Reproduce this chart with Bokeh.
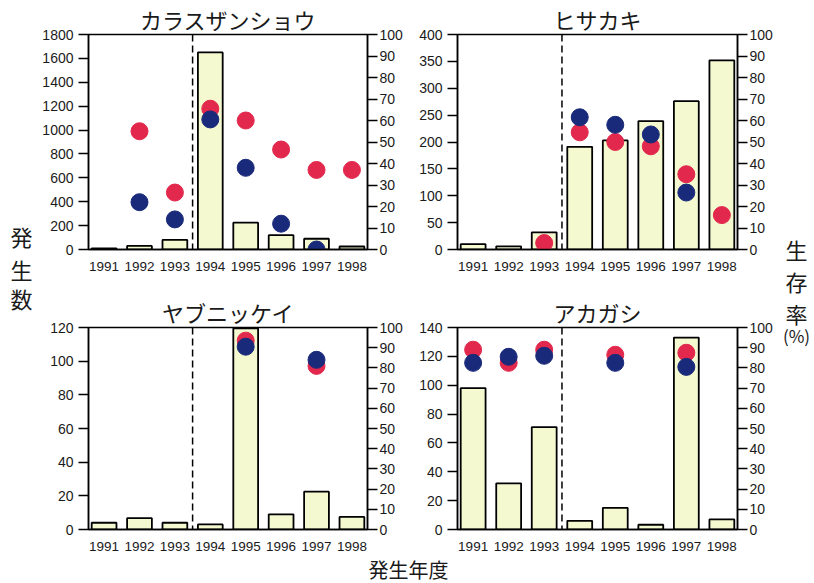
from bokeh.plotting import figure
from bokeh.models import Range1d, LinearAxis, FixedTicker, Span
from bokeh.layouts import row, column
from bokeh.embed import file_html
from bokeh.resources import INLINE
from bokeh.core.properties import value

# ---------------- data ----------------
years = [1991, 1992, 1993, 1994, 1995, 1996, 1997, 1998]
titles = ["カラスザンショウ", "ヒサカキ", "ヤブニッケイ", "アカガシ"]

karasu_counts = [10, 30, 80, 1650, 225, 120, 90, 25]
karasu_red = [None, 55, 26.5, 65.5, 60, 46.5, 37, 37]
karasu_blue = [None, 22, 14, 60.5, 38, 12, 0, None]

hisakaki_counts = [10, 6, 32, 191, 203, 239, 276, 352]
hisakaki_red = [None, None, 3, 54.5, 50, 48, 35, 16]
hisakaki_blue = [None, None, None, 61.5, 58, 53.5, 26.5, None]

yabu_counts = [4, 6.7, 4, 3, 119.5, 9, 22.5, 7.5]
yabu_red = [None, None, None, None, 93.5, None, 81, None]
yabu_blue = [None, None, None, None, 90.5, None, 84, None]

akagashi_counts = [98, 32, 71, 6, 15, 3.3, 133, 7]
akagashi_red = [89, 82.5, 89, None, 86.5, None, 87.5, None]
akagashi_blue = [82.5, 85.5, 86, None, 82.5, None, 80.5, None]

count_max = [1800, 400, 120, 140]
count_step = [200, 50, 20, 20]
pct_ticks = list(range(0, 101, 10))
divider_year = 1993.5

left_label_chars = ["発", "生", "数"]
right_label_chars = ["生", "存", "率"]
right_unit = "(%)"
x_label = "発生年度"

BAR_FILL = "#f4f9cf"
RED = "#e2284c"
BLUE = "#1a2a7a"
NUM_FONT = "Liberation Sans"
YEAR_FONT = "Liberation Sans"
JP_FONT = "Noto Sans CJK JP"
TXT = "#1a1a1a"


def panel(title, counts, red, blue, ymax, step, width, height, bl, br, bt, bb):
    p = figure(width=width, height=height,
               x_range=Range1d(1990.56, 1998.44), y_range=Range1d(0, ymax),
               output_backend="svg", toolbar_location=None,
               min_border_left=bl, min_border_right=br,
               min_border_top=bt, min_border_bottom=bb,
               background_fill_color="white", border_fill_color="white")
    p.extra_y_ranges = {"pct": Range1d(0, 100)}
    p.xgrid.visible = False
    p.ygrid.visible = False
    p.outline_line_color = "black"
    p.outline_line_width = 1.5

    p.title.text = title
    p.title.align = "center"
    p.title.text_font = JP_FONT
    p.title.text_font_size = "22px"
    p.title.text_font_style = "normal"
    p.title.text_color = TXT
    p.title.standoff = 0

    p.vbar(x=years, top=counts, bottom=0, width=0.7,
           fill_color=BAR_FILL, line_color="black", line_width=1.8)

    rx = [y for y, v in zip(years, red) if v is not None]
    rv = [v for v in red if v is not None]
    bx = [y for y, v in zip(years, blue) if v is not None]
    bv = [v for v in blue if v is not None]
    p.scatter(rx, rv, size=17, fill_color=RED, line_color=RED, y_range_name="pct")
    p.scatter(bx, bv, size=17, fill_color=BLUE, line_color=BLUE, y_range_name="pct")

    p.add_layout(Span(location=divider_year, dimension="height",
                      line_color="black", line_width=1.5, line_dash="7 4"))

    # x axis
    xa = p.xaxis[0]
    xa.ticker = FixedTicker(ticks=years)
    xa.major_tick_out = 0
    xa.major_tick_in = 0
    xa.minor_tick_out = 0
    xa.minor_tick_in = 0
    xa.axis_line_width = 1.5
    xa.axis_line_color = "black"
    xa.major_label_standoff = 12
    xa.major_label_text_font = YEAR_FONT
    xa.major_label_text_font_size = "13.5px"
    xa.major_label_text_color = TXT

    # left axis
    ya = p.yaxis[0]
    ya.ticker = FixedTicker(ticks=list(range(0, ymax + 1, step)))
    ya.major_tick_out = 10
    ya.major_tick_in = 0
    ya.minor_tick_out = 0
    ya.minor_tick_in = 0
    ya.major_tick_line_width = 1.5
    ya.axis_line_width = 1.5
    ya.major_label_standoff = 5
    ya.major_label_text_font = NUM_FONT
    ya.major_label_text_font_size = "14px"
    ya.major_label_text_color = TXT

    # right axis
    ra = LinearAxis(y_range_name="pct", ticker=FixedTicker(ticks=pct_ticks))
    ra.major_tick_out = 10
    ra.major_tick_in = 0
    ra.minor_tick_out = 0
    ra.minor_tick_in = 0
    ra.major_tick_line_width = 1.5
    ra.axis_line_width = 1.5
    ra.major_label_standoff = 2
    ra.major_label_text_font = NUM_FONT
    ra.major_label_text_font_size = "14px"
    ra.major_label_text_color = TXT
    p.add_layout(ra, "right")
    return p


p1 = panel(titles[0], karasu_counts, karasu_red, karasu_blue, count_max[0], count_step[0],
           372, 293, 55, 36, 34, 44)
p2 = panel(titles[1], hisakaki_counts, hisakaki_red, hisakaki_blue, count_max[1], count_step[1],
           370, 293, 52, 36, 34, 44)
p3 = panel(titles[2], yabu_counts, yabu_red, yabu_blue, count_max[2], count_step[2],
           372, 262, 55, 36, 21, 26)
p4 = panel(titles[3], akagashi_counts, akagashi_red, akagashi_blue, count_max[3], count_step[3],
           370, 262, 52, 36, 21, 26)


def blank(width, height):
    f = figure(width=width, height=height, x_range=Range1d(0, width), y_range=Range1d(0, height),
               output_backend="svg", toolbar_location=None, min_border=0,
               x_axis_location=None, y_axis_location=None,
               background_fill_color="white", border_fill_color="white")
    f.xgrid.visible = False
    f.ygrid.visible = False
    f.outline_line_color = None
    return f


left_lab = blank(33, 583)
left_lab.text(x=[21, 21, 21], y=[348, 315, 286], text=left_label_chars,
              text_font=value(JP_FONT), text_font_size="22px",
              text_align="center", text_baseline="middle", text_color=TXT)

right_lab = blank(39, 583)
right_lab.text(x=[21, 21, 21], y=[335, 303, 271], text=right_label_chars,
               text_font=value(JP_FONT), text_font_size="22px",
               text_align="center", text_baseline="middle", text_color=TXT)
right_lab.text(x=[21], y=[248], text=[right_unit], text_font=value(JP_FONT),
               text_font_size="17px", text_align="center", text_baseline="middle",
               text_color=TXT)

bottom_lab = blank(742, 28)
bottom_lab.text(x=[375], y=[14], text=[x_label], text_font=value(JP_FONT),
                text_font_size="20px", text_align="center", text_baseline="middle",
                text_color=TXT)

layout = row(left_lab, column(row(p1, p2), row(p3, p4), bottom_lab), right_lab)

open("out.html", "w").write(file_html(layout, INLINE))
